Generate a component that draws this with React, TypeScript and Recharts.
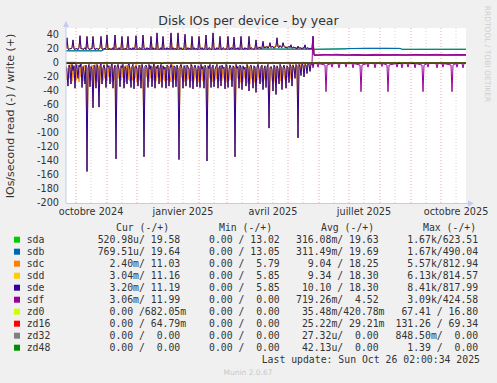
import { LineChart, Line, XAxis, YAxis, CartesianGrid, ReferenceLine } from 'recharts';

// x = day index, day 0 = 21 Sep 2024, day 400 = 26 Oct 2025 (munin "year" view)
const monthStarts = [10, 41, 71, 102, 133, 161, 192, 222, 253, 283, 314, 345, 375];
const midMonths = [25, 56, 86, 117, 148, 176, 207, 237, 268, 298, 329, 360, 390];
const labelDays = [25, 117, 207, 298, 390];
const labelNames = ['octobre 2024', 'janvier 2025', 'avril 2025', 'juillet 2025', 'octobre 2025'];
const yTicks = [-200, -180, -160, -140, -120, -100, -80, -60, -40, -20, 0, 20, 40];
const yMinor = [-190, -170, -150, -130, -110, -90, -70, -50, -30, -10, 10, 30, 50];

// daily values, days 0..247 (before the disk change)
const sdeWritePre = [
  21, 36, 20, 19, 21, 20, 22, 33, 20, 19,
  21, 20, 19, 22, 39, 20, 21, 19, 20, 22,
  19, 38, 21, 20, 19, 21, 20, 38, 22, 19,
  20, 21, 19, 20, 22, 38, 20, 19, 21, 20,
  22, 40, 19, 20, 21, 19, 20, 22, 20, 40,
  21, 19, 20, 22, 19, 21, 38, 20, 19, 21,
  20, 22, 38, 19, 21, 20, 19, 22, 20, 21,
  39, 20, 19, 21, 22, 20, 19, 40, 21, 20,
  19, 22, 20, 21, 19, 38, 20, 22, 19, 21,
  20, 43, 21, 19, 20, 22, 19, 38, 20, 21,
  19, 22, 20, 21, 19, 43, 20, 22, 19, 21,
  20, 19, 43, 21, 20, 22, 19, 20, 21, 41,
  20, 19, 22, 20, 21, 19, 38, 20, 22, 19,
  21, 20, 19, 38, 21, 20, 22, 19, 20, 21,
  40, 19, 20, 22, 21, 19, 20, 43, 21, 20,
  19, 22, 20, 21, 38, 19, 20, 22, 21, 19,
  20, 21, 38, 20, 19, 22, 21, 20, 37, 19,
  21, 20, 22, 19, 20, 38, 21, 20, 19, 22,
  20, 21, 19, 38, 20, 22, 21, 19, 20, 21,
  33, 20, 22, 21, 23, 20, 22, 31, 21, 23,
  22, 24, 21, 23, 29, 22, 24, 23, 21, 22,
  24, 36, 23, 22, 25, 23, 22, 29, 24, 22,
  23, 21, 22, 24, 22, 26, 21, 22, 23, 21,
  22, 20, 24, 21, 22, 21, 20, 22, 21, 26,
  20, 21, 22, 20, 21, 20, 21, 38,
];

const sdeReadPre = [
  -5, -14, -33, -3, -7, -30, -2, -11, -4, -36,
  -2, -8, -22, -3, -6, -1, -35, -5, -12, -30,
  -3, -155, -7, -2, -34, -5, -9, -64, -3, -6,
  -36, -2, -8, -63, -4, -1, -30, -7, -3, -10,
  -35, -2, -6, -4, -30, -5, -1, -36, -8, -3,
  -137, -6, -2, -9, -34, -4, -7, -2, -36, -5,
  -8, -30, -3, -1, -10, -35, -5, -2, -37, -7,
  -4, -9, -33, -3, -6, -36, -2, -8, -134, -5,
  -3, -7, -35, -2, -9, -4, -34, -6, -1, -36,
  -5, -8, -3, -30, -7, -2, -35, -4, -9, -6,
  -36, -3, -5, -33, -8, -2, -7, -35, -4, -6,
  -34, -3, -9, -138, -5, -2, -8, -36, -4, -7,
  -33, -3, -6, -9, -35, -2, -5, -37, -7, -3,
  -8, -34, -4, -6, -35, -2, -9, -5, -36, -3,
  -7, -140, -4, -8, -2, -35, -6, -3, -34, -9,
  -5, -2, -36, -7, -4, -33, -3, -8, -6, -37,
  -2, -5, -35, -9, -3, -7, -34, -4, -6, -134,
  -2, -8, -5, -36, -3, -7, -38, -4, -9, -6,
  -33, -2, -8, -40, -5, -3, -10, -36, -4, -7,
  -42, -6, -2, -9, -30, -5, -3, -38, -8, -4,
  -35, -6, -2, -93, -7, -5, -9, -40, -3, -6,
  -45, -4, -8, -30, -2, -5, -38, -7, -3, -9,
  -36, -4, -6, -28, -2, -5, -33, -3, -7, -22,
  -2, -4, -107, -2, -5, -18, -1, -3, -20, -2,
  -3, -15, -1, -2, -12, -1, -2, -3,
];

const sdcReadPre = [
  -2, -24, -7, -22, -2, -11, -26, -3, -21, -6,
  -25, -2, -11, -27, -2, -20, -8, -26, -3, -7,
  -28, -110, -30, -5, -11, -25, -3, -55, -22, -2,
  -9, -27, -4, -52, -20, -5, -8, -25, -2, -22,
  -7, -26, -3, -20, -6, -27, -2, -12, -24, -4,
  -95, -26, -5, -22, -8, -25, -2, -21, -7, -27,
  -3, -11, -24, -4, -26, -6, -20, -25, -5, -22,
  -2, -27, -7, -12, -25, -3, -23, -26, -98, -24,
  -5, -20, -8, -27, -3, -22, -6, -25, -2, -12,
  -26, -4, -21, -7, -27, -3, -11, -24, -5, -26,
  -6, -22, -25, -4, -20, -27, -2, -9, -24, -5,
  -22, -26, -7, -100, -25, -4, -21, -8, -27, -3,
  -12, -25, -5, -23, -7, -26, -3, -20, -25, -6,
  -22, -9, -27, -4, -21, -24, -5, -26, -7, -20,
  -25, -102, -26, -5, -22, -8, -27, -3, -12, -25,
  -6, -23, -7, -26, -4, -20, -25, -5, -22, -9,
  -27, -3, -21, -25, -6, -24, -8, -26, -5, -98,
  -25, -4, -22, -9, -28, -5, -24, -27, -6, -22,
  -8, -29, -4, -26, -30, -7, -23, -11, -28, -5,
  -30, -25, -6, -22, -9, -27, -4, -28, -24, -7,
  -22, -10, -26, -75, -24, -6, -25, -29, -5, -27,
  -33, -8, -22, -11, -26, -5, -27, -20, -6, -24,
  -25, -4, -21, -11, -5, -22, -20, -2, -11, -7,
  -3, -10, -85, -5, -2, -7, -1, -5, -8, -1,
  -3, -4, -1, -2, -2, -1, -1, -2,
];

// [day, value] points
const sdcWrite: [number, number][] = [
  [0, 20.8], [0.2, 20.8], [1, 33], [2.2, 20.8], [5.8, 20.8], [7, 30], [8.2, 20.8],
  [12.8, 20.8], [14, 36], [15.2, 20.8], [19.8, 20.8], [21, 35], [22.2, 20.8],
  [25.8, 20.8], [27, 35], [28.2, 20.8], [33.8, 20.8], [35, 35], [36.2, 20.8],
  [39.8, 20.8], [41, 37], [42.2, 20.8], [47.8, 20.8], [49, 37], [50.2, 20.8],
  [54.8, 20.8], [56, 35], [57.2, 20.8], [60.8, 20.8], [62, 35], [63.2, 20.8],
  [68.8, 20.8], [70, 36], [71.2, 20.8], [75.8, 20.8], [77, 37], [78.2, 20.8],
  [83.8, 20.8], [85, 35], [86.2, 20.8], [89.8, 20.8], [91, 40], [92.2, 20.8],
  [95.8, 20.8], [97, 35], [98.2, 20.8], [103.8, 20.8], [105, 40], [106.2, 20.8],
  [110.8, 20.8], [112, 40], [113.2, 20.8], [117.8, 20.8], [119, 38], [120.2, 20.8],
  [124.8, 20.8], [126, 35], [127.2, 20.8], [131.8, 20.8], [133, 35], [134.2, 20.8],
  [138.8, 20.8], [140, 37], [141.2, 20.8], [145.8, 20.8], [147, 40], [148.2, 20.8],
  [152.8, 20.8], [154, 35], [155.2, 20.8], [160.8, 20.8], [162, 35], [163.2, 20.8],
  [166.8, 20.8], [168, 34], [169.2, 20.8], [173.8, 20.8], [175, 35], [176.2, 20.8],
  [181.8, 20.8], [183, 35], [184.2, 20.8], [188.8, 20.8], [190, 30], [191.2, 21.5],
  [195.8, 22], [197, 28], [198.2, 22.5], [202.8, 23], [204, 27], [205.2, 23],
  [209.8, 23.5], [211, 33], [212.2, 23], [215.8, 23], [217, 27], [218.2, 23],
  [223.8, 22.5], [225, 25], [226.2, 22], [230.8, 22], [232, 23], [233.2, 21.5],
  [237.8, 21.5], [239, 24], [240.2, 21], [245.8, 21], [247, 35], [248, 11],
  [270, 11.2], [300, 10.8], [340, 11.1], [400, 11.03],
];
const sdeWritePost: [number, number][] = [[248, 11], [260, 11.5], [300, 11], [340, 11.3], [400, 11.19]];
const idlePost: [number, number][] = [[248, 0], [400, 0]];

const sdaWrite: [number, number][] = [
  [0, 17.3], [36, 17.3], [38, 19.4], [120, 19.6], [200, 19.9], [246, 19.7], [248, 19.5],
  [280, 20.3], [300, 21.2], [318, 21.2], [334, 20.9], [336, 19.5], [400, 19.58],
];
const sdbWrite: [number, number][] = [
  [0, 17.5], [36, 17.5], [38, 19.5], [120, 19.8], [200, 20], [246, 19.8], [248, 19.6],
  [280, 20.2], [282, 20.8], [334, 20.8], [336, 19.6], [400, 19.64],
];
const sdfWrite: [number, number][] = [
  [0, 0], [246, 0], [247, 38], [248, 12], [252, 11.5], [258, 12.3], [265, 11.8], [270, 12.5],
  [280, 11.6], [290, 12.2], [300, 11.7], [310, 12.4], [320, 11.9], [330, 12.1], [340, 11.5],
  [350, 12.3], [360, 11.8], [370, 12.4], [380, 11.7], [390, 12.2], [400, 11.99],
];
const sdfRead: [number, number][] = [
  [0, 0], [246, 0], [247, -7], [248, -0.8],
  [251, -0.8], [252, -6], [253, -0.8], [259, -3], [260, -41], [261, -3],
  [265, -0.8], [266, -6], [267, -0.8], [272, -0.8], [273, -7], [274, -0.8],
  [279, -0.8], [280, -6], [281, -0.8], [286, -0.8], [287, -7], [288, -0.8],
  [294, -3], [295, -41], [296, -3], [301, -0.8], [302, -6], [303, -0.8],
  [308, -0.8], [309, -7], [310, -0.8], [315, -0.8], [316, -5], [317, -0.8],
  [321, -3], [322, -41], [323, -3], [330, -0.8], [331, -6], [332, -0.8],
  [335, -0.8], [336, -7], [337, -0.8], [341, -0.8], [342, -6], [343, -0.8],
  [348, -0.8], [349, -7], [350, -0.8], [356, -3], [357, -41], [358, -3],
  [361, -0.8], [362, -6], [363, -0.8], [370, -0.8], [371, -7], [372, -0.8],
  [376, -0.8], [377, -6], [378, -0.8], [385, -3], [386, -41], [387, -3],
  [390, -0.8], [391, -6], [392, -0.8], [396, -0.8], [397, -7], [398, -0.8], [400, -0.8],
];
const zd0Write: [number, number][] = [
  [0, 1.5], [9, 1.5], [10, 0], [95, 0], [96, 1.4], [97, 0], [330, 0], [331, 1.3],
  [334, 1.3], [335, 0], [345, 0], [346, 1.2], [348, 1.2], [349, 0], [400, 0],
];
const flat: [number, number][] = [[0, 0], [400, 0]];

const pts = (p: [number, number][]) => p.map(([d, v]) => ({ d, v }));
const daily = (vals: number[], tail: [number, number][]) => [
  ...vals.map((v, i) => ({ d: i, v })),
  ...pts(tail),
];

const series = [
  { key: 'sdaR', color: '#00CC00', data: pts(flat) },
  { key: 'sdaW', color: '#00CC00', data: pts(sdaWrite) },
  { key: 'sdbR', color: '#0066B3', data: pts(flat) },
  { key: 'sdbW', color: '#0066B3', data: pts(sdbWrite) },
  { key: 'sdcR', color: '#FF8000', data: daily(sdcReadPre, idlePost) },
  { key: 'sdcW', color: '#FF8000', data: pts(sdcWrite) },
  { key: 'sddR', color: '#FFCC00', data: daily(sdeReadPre, idlePost) },
  { key: 'sddW', color: '#FFCC00', data: daily(sdeWritePre, sdeWritePost) },
  { key: 'sdeR', color: '#330099', data: daily(sdeReadPre, idlePost) },
  { key: 'sdeW', color: '#330099', data: daily(sdeWritePre, sdeWritePost) },
  { key: 'sdfR', color: '#990099', data: pts(sdfRead) },
  { key: 'sdfW', color: '#990099', data: pts(sdfWrite) },
  { key: 'zd0W', color: '#CCFF00', data: pts(zd0Write) },
];

const legendRows = [
  { name: 'sda', color: '#00CC00', cur: '520.98u/ 19.58', min: '  0.00 / 13.02', avg: '316.08m/ 19.63', max: '  1.67k/623.51' },
  { name: 'sdb', color: '#0066B3', cur: '769.51u/ 19.64', min: '  0.00 / 13.05', avg: '311.49m/ 19.69', max: '  1.67k/490.04' },
  { name: 'sdc', color: '#FF8000', cur: '  2.40m/ 11.03', min: '  0.00 /  5.79', avg: '  9.04 / 18.25', max: '  5.57k/812.94' },
  { name: 'sdd', color: '#FFCC00', cur: '  3.04m/ 11.16', min: '  0.00 /  5.85', avg: '  9.34 / 18.30', max: '  6.13k/814.57' },
  { name: 'sde', color: '#330099', cur: '  3.20m/ 11.19', min: '  0.00 /  5.85', avg: ' 10.10 / 18.30', max: '  8.41k/817.99' },
  { name: 'sdf', color: '#990099', cur: '  3.06m/ 11.99', min: '  0.00 /  0.00', avg: '719.26m/  4.52', max: '  3.09k/424.58' },
  { name: 'zd0', color: '#CCFF00', cur: '  0.00 /682.05m', min: '  0.00 /  0.00', avg: ' 35.48m/420.78m', max: ' 67.41 / 16.80' },
  { name: 'zd16', color: '#FF0000', cur: '  0.00 / 64.79m', min: '  0.00 /  0.00', avg: ' 25.22m/ 29.21m', max: '131.26 / 69.34' },
  { name: 'zd32', color: '#808080', cur: '  0.00 /  0.00', min: '  0.00 /  0.00', avg: ' 27.32u/  0.00', max: '848.50m/  0.00' },
  { name: 'zd48', color: '#008F00', cur: '  0.00 /  0.00', min: '  0.00 /  0.00', avg: ' 42.13u/  0.00', max: '  1.39 /  0.00' },
];

const axisFont = { fontFamily: 'DejaVu Sans', fontSize: 9.7, fill: '#333' };
const mono = { fontFamily: 'DejaVu Sans Mono', fontSize: 9.8, fill: '#333', whiteSpace: 'pre' as const };
const axisBlue = '#c4cbf2';

export default function App() {
  return (
    <div style={{ position: 'absolute', left: 0, top: 0, width: 497, height: 383, background: '#f0f0f0' }}>
      <LineChart width={497} height={383} margin={{ top: 28, right: 31, bottom: 150, left: 6 }}>
        <CartesianGrid horizontalValues={yMinor} verticalValues={midMonths} stroke="#d6d6d6" strokeDasharray="1 2" fill="#fff" />
        <CartesianGrid horizontalValues={yTicks} verticalValues={monthStarts} stroke="#eda4a4" strokeDasharray="1 2" />
        <XAxis
          type="number"
          dataKey="d"
          domain={[0, 400]}
          ticks={labelDays}
          interval={0}
          tickFormatter={(v: number) => labelNames[labelDays.indexOf(v)] ?? ''}
          height={30}
          axisLine={false}
          tickLine={false}
          tickSize={0}
          tickMargin={5}
          tick={axisFont}
          allowDataOverflow
        />
        <YAxis
          type="number"
          domain={[-200, 50]}
          ticks={yTicks}
          width={60}
          axisLine={false}
          tickLine={false}
          tick={false}
          allowDataOverflow
        />
        {series.map((s) => (
          <Line
            key={s.key}
            data={s.data}
            dataKey="v"
            type="linear"
            stroke={s.color}
            strokeWidth={1}
            dot={false}
            activeDot={false}
            isAnimationActive={false}
          />
        ))}
        {yTicks.map((t) => (
          <ReferenceLine
            key={`yl${t}`}
            y={t}
            stroke="none"
            label={{ value: String(t), position: 'left', offset: 7, ...axisFont }}
          />
        ))}
        <ReferenceLine y={0} stroke="#000" strokeWidth={1} />
      </LineChart>
      <svg width={497} height={383} style={{ position: 'absolute', left: 0, top: 0, pointerEvents: 'none' }}>
        <line x1={66} y1={203} x2={66} y2={26} stroke={axisBlue} />
        <line x1={66} y1={203.5} x2={469} y2={203.5} stroke={axisBlue} />
        <polygon points="63,27 69,27 66,21" fill={axisBlue} />
        <polygon points="468,200.5 468,206.5 474,203.5" fill={axisBlue} />
        <text x={248.5} y={24.5} textAnchor="middle" fontFamily="DejaVu Sans" fontSize={12.5} fill="#333">
          Disk IOs per device - by year
        </text>
        <text x={14} y={116} textAnchor="middle" transform="rotate(-90 14 116)" fontFamily="DejaVu Sans" fontSize={11} fill="#333">
          IOs/second read (-) / write (+)
        </text>
        <text x={485} y={54} textAnchor="middle" transform="rotate(90 485 54)" fontFamily="DejaVu Sans" fontSize={7.5} fill="#cfcfcf">
          RRDTOOL / TOBI OETIKER
        </text>
        <text x={116} y={230.7} style={mono}>Cur (-/+)</text>
        <text x={219} y={230.7} style={mono}>Min (-/+)</text>
        <text x={321} y={230.7} style={mono}>Avg (-/+)</text>
        <text x={423} y={230.7} style={mono}>Max (-/+)</text>
        {legendRows.map((r, i) => {
          const y = 243 + i * 12;
          return (
            <g key={r.name}>
              <rect x={14} y={y - 6.3} width={6} height={6} fill={r.color} />
              <text x={26.7} y={y} style={mono}>{r.name}</text>
              <text x={97.7} y={y} style={mono}>{r.cur}</text>
              <text x={197.2} y={y} style={mono}>{r.min}</text>
              <text x={296} y={y} style={mono}>{r.avg}</text>
              <text x={395.5} y={y} style={mono}>{r.max}</text>
            </g>
          );
        })}
        <text x={261.7} y={363} style={mono}>Last update: Sun Oct 26 02:00:34 2025</text>
        <text x={248} y={375} textAnchor="middle" fontFamily="DejaVu Sans" fontSize={7.5} fill="#c8c8c8">
          Munin 2.0.67
        </text>
      </svg>
    </div>
  );
}
